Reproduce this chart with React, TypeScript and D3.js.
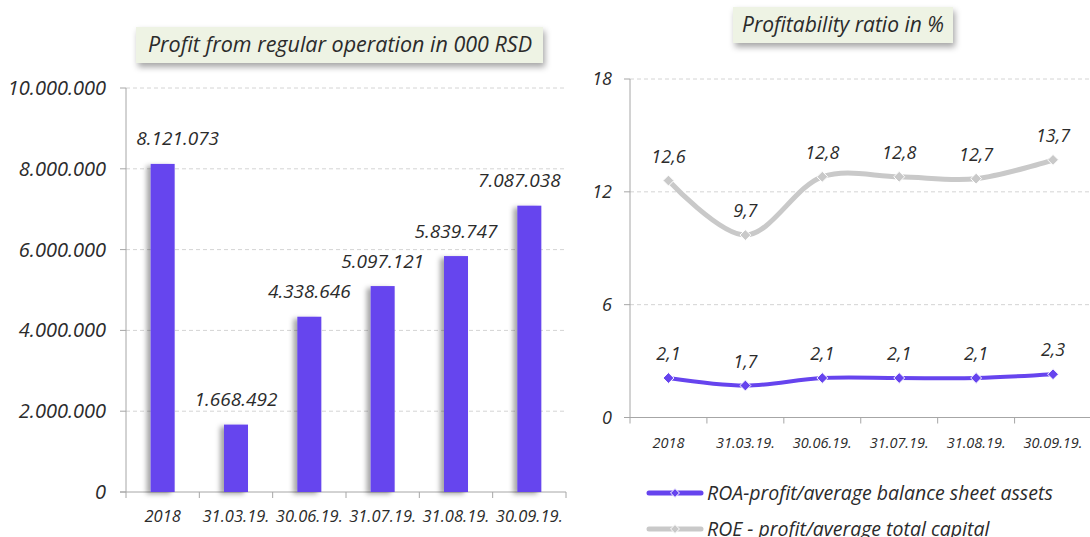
import React, { useEffect, useRef } from "react";
import * as d3 from "d3";

const categories = ["2018", "31.03.19.", "30.06.19.", "31.07.19.", "31.08.19.", "30.09.19."];
const profit = [8121073, 1668492, 4338646, 5097121, 5839747, 7087038];
const profitTicks = [0, 2000000, 4000000, 6000000, 8000000, 10000000];
const roa = [2.1, 1.7, 2.1, 2.1, 2.1, 2.3];
const roe = [12.6, 9.7, 12.8, 12.8, 12.7, 13.7];
const ratioTicks = [0, 6, 12, 18];

// a couple of bar labels were nudged sideways in the original
const barLabelShift = [15, 0, 0, 0, 0, -10];

const PURPLE = "#6644ee";
const GRAY = "#c9c9c9";
const TEXT = "#2b2b2b";
const AXIS = "#a6a6a6";
const FONT = "'Open Sans', sans-serif";

const locale = d3.formatLocale({ decimal: ",", thousands: ".", grouping: [3], currency: ["", ""] });
const fmtInt = locale.format(",d");
const fmt1 = locale.format(".1f");

const App = () => {
	const svgRef = useRef(null);

	useEffect(() => {
		const svg = d3.select(svgRef.current);
		svg.selectAll("*").remove();

		const defs = svg.append("defs");
		const barShadow = defs.append("filter").attr("id", "barShadow").attr("x", "-80%").attr("width", "200%");
		barShadow.append("feDropShadow").attr("dx", -4).attr("dy", 2).attr("stdDeviation", 2.5).attr("flood-color", "#000").attr("flood-opacity", 0.35);
		const boxShadow = defs.append("filter").attr("id", "boxShadow").attr("x", "-10%").attr("y", "-30%").attr("width", "130%").attr("height", "180%");
		boxShadow.append("feDropShadow").attr("dx", 2).attr("dy", 4).attr("stdDeviation", 3).attr("flood-color", "#000").attr("flood-opacity", 0.35);

		// ---- left: bar chart
		const x1 = d3.scaleBand().domain(categories).range([126, 566]);
		const y1 = d3.scaleLinear().domain([0, 10000000]).range([492, 88]);
		const [lx0, lx1] = x1.range();
		const left = svg.append("g");

		left.append("g")
			.selectAll("line")
			.data(profitTicks.slice(1))
			.join("line")
			.attr("x1", lx0).attr("x2", lx1)
			.attr("y1", (d) => y1(d)).attr("y2", (d) => y1(d))
			.attr("stroke", "#d4d4d4").attr("stroke-dasharray", "4,3");

		left.append("line").attr("x1", lx0).attr("x2", lx0).attr("y1", y1(10000000)).attr("y2", y1(0)).attr("stroke", AXIS);
		left.append("line").attr("x1", lx0 - 6).attr("x2", lx1).attr("y1", y1(0)).attr("y2", y1(0)).attr("stroke", AXIS);
		left.append("g")
			.selectAll("line")
			.data(profitTicks)
			.join("line")
			.attr("x1", lx0 - 6).attr("x2", lx0)
			.attr("y1", (d) => y1(d)).attr("y2", (d) => y1(d))
			.attr("stroke", AXIS);
		left.append("g")
			.selectAll("line")
			.data([...categories, null])
			.join("line")
			.attr("x1", (d, i) => lx0 + i * x1.bandwidth()).attr("x2", (d, i) => lx0 + i * x1.bandwidth())
			.attr("y1", y1(0)).attr("y2", y1(0) + 6)
			.attr("stroke", AXIS);

		left.append("g")
			.selectAll("text")
			.data(profitTicks)
			.join("text")
			.attr("x", 106).attr("y", (d) => y1(d) + 7)
			.attr("text-anchor", "end")
			.attr("font-size", 20).attr("font-style", "italic").attr("fill", TEXT)
			.text((d) => fmtInt(d));

		const bw = 24;
		left.append("g")
			.selectAll("rect")
			.data(profit)
			.join("rect")
			.attr("x", (d, i) => x1(categories[i]) + x1.bandwidth() / 2 - bw / 2)
			.attr("width", bw)
			.attr("y", (d) => y1(d))
			.attr("height", (d) => y1(0) - y1(d))
			.attr("fill", PURPLE)
			.attr("filter", "url(#barShadow)");

		left.append("g")
			.selectAll("text")
			.data(profit)
			.join("text")
			.attr("x", (d, i) => x1(categories[i]) + x1.bandwidth() / 2 + barLabelShift[i])
			.attr("y", (d) => y1(d) - 18.5)
			.attr("text-anchor", "middle")
			.attr("font-size", 19).attr("font-style", "italic").attr("fill", TEXT)
			.text((d) => fmtInt(d));

		left.append("g")
			.selectAll("text")
			.data(categories)
			.join("text")
			.attr("x", (d) => x1(d) + x1.bandwidth() / 2)
			.attr("y", 522)
			.attr("text-anchor", "middle")
			.attr("font-size", 16.5).attr("font-style", "italic").attr("fill", TEXT)
			.text((d) => d);

		left.append("rect").attr("x", 136).attr("y", 27).attr("width", 407).attr("height", 36)
			.attr("fill", "#eef3e4").attr("filter", "url(#boxShadow)");
		left.append("text").attr("x", 340).attr("y", 52).attr("text-anchor", "middle")
			.attr("font-size", 21.5).attr("font-style", "italic").attr("fill", TEXT)
			.text("Profit from regular operation in 000 RSD");

		// ---- right: line chart
		const x2 = d3.scaleBand().domain(categories).range([630, 1091.5]);
		const y2 = d3.scaleLinear().domain([0, 18]).range([417.5, 79]);
		const rx0 = 630;
		const right = svg.append("g");

		right.append("g")
			.selectAll("line")
			.data(ratioTicks.slice(1))
			.join("line")
			.attr("x1", rx0).attr("x2", 1090)
			.attr("y1", (d) => y2(d)).attr("y2", (d) => y2(d))
			.attr("stroke", "#d4d4d4").attr("stroke-dasharray", "4,3");
		right.append("line").attr("x1", rx0).attr("x2", rx0).attr("y1", y2(18)).attr("y2", y2(0)).attr("stroke", AXIS);
		right.append("line").attr("x1", rx0 - 6).attr("x2", 1090).attr("y1", y2(0)).attr("y2", y2(0)).attr("stroke", AXIS);
		right.append("g")
			.selectAll("line")
			.data(ratioTicks)
			.join("line")
			.attr("x1", rx0 - 6).attr("x2", rx0)
			.attr("y1", (d) => y2(d)).attr("y2", (d) => y2(d))
			.attr("stroke", AXIS);
		right.append("g")
			.selectAll("line")
			.data(categories)
			.join("line")
			.attr("x1", (d, i) => rx0 + i * x2.bandwidth()).attr("x2", (d, i) => rx0 + i * x2.bandwidth())
			.attr("y1", y2(0)).attr("y2", y2(0) + 6)
			.attr("stroke", AXIS);
		right.append("g")
			.selectAll("text")
			.data(ratioTicks)
			.join("text")
			.attr("x", 612).attr("y", (d) => y2(d) + 6)
			.attr("text-anchor", "end")
			.attr("font-size", 18).attr("font-style", "italic").attr("fill", TEXT)
			.text((d) => d);
		right.append("g")
			.selectAll("text")
			.data(categories)
			.join("text")
			.attr("x", (d) => x2(d) + x2.bandwidth() / 2)
			.attr("y", 448)
			.attr("text-anchor", "middle")
			.attr("font-size", 14.5).attr("font-style", "italic").attr("fill", TEXT)
			.text((d) => d);

		const cx = (i) => x2(categories[i]) + x2.bandwidth() / 2;
		const series = [
			{ values: roe, color: GRAY, width: 5 },
			{ values: roa, color: PURPLE, width: 4 },
		];
		series.forEach((s) => {
			const line = d3.line().x((d, i) => cx(i)).y((d) => y2(d)).curve(d3.curveCatmullRom.alpha(0.5));
			right.append("path").attr("d", line(s.values)).attr("fill", "none")
				.attr("stroke", s.color).attr("stroke-width", s.width).attr("stroke-linecap", "round");
			right.append("g")
				.selectAll("path")
				.data(s.values)
				.join("path")
				.attr("d", d3.symbol(d3.symbolDiamond2, 75))
				.attr("transform", (d, i) => `translate(${cx(i)},${y2(d)})`)
				.attr("fill", s.color).attr("stroke", "#fff").attr("stroke-width", 1);
			right.append("g")
				.selectAll("text")
				.data(s.values)
				.join("text")
				.attr("x", (d, i) => cx(i))
				.attr("y", (d) => y2(d) - 18)
				.attr("text-anchor", "middle")
				.attr("font-size", 18).attr("font-style", "italic").attr("fill", TEXT)
				.text((d) => fmt1(d));
		});

		right.append("rect").attr("x", 733).attr("y", 7).attr("width", 220).attr("height", 36)
			.attr("fill", "#eef3e4").attr("filter", "url(#boxShadow)");
		right.append("text").attr("x", 843).attr("y", 32).attr("text-anchor", "middle")
			.attr("font-size", 21).attr("font-style", "italic").attr("fill", TEXT)
			.text("Profitability ratio in %");

		const legend = [
			{ label: "ROA-profit/average balance sheet assets", color: PURPLE, y: 493 },
			{ label: "ROE - profit/average total capital", color: GRAY, y: 529 },
		];
		legend.forEach((l) => {
			right.append("line").attr("x1", 649).attr("x2", 701).attr("y1", l.y).attr("y2", l.y)
				.attr("stroke", l.color).attr("stroke-width", 5).attr("stroke-linecap", "round");
			right.append("path").attr("d", d3.symbol(d3.symbolDiamond2, 50))
				.attr("transform", `translate(675,${l.y})`)
				.attr("fill", l.color).attr("stroke", "#fff").attr("stroke-width", 1);
			right.append("text").attr("x", 707).attr("y", l.y + 7)
				.attr("font-size", 19.5).attr("font-style", "italic").attr("fill", TEXT)
				.text(l.label);
		});
	}, []);

	return (
		<svg
			ref={svgRef}
			width={1090}
			height={537}
			style={{ position: "absolute", left: 0, top: 0, background: "#fff", fontFamily: FONT }}
		/>
	);
};

export default App;
